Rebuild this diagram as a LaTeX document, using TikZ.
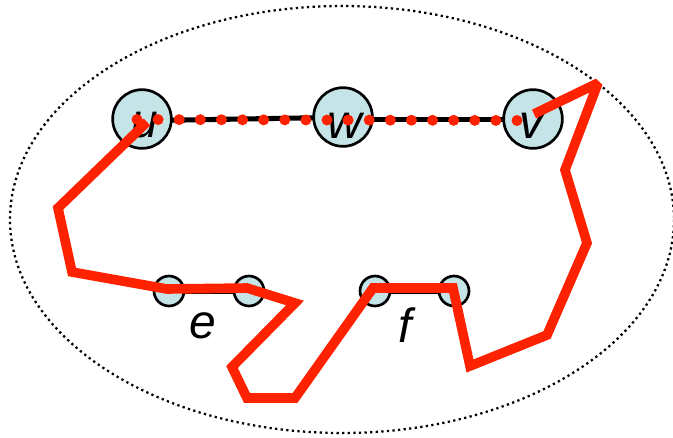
\documentclass[tikz,border=0pt]{standalone}
\usepackage{fontspec}
\setmainfont{Liberation Sans}
\usetikzlibrary{calc}
\definecolor{nodefill}{RGB}{197,228,232}
\definecolor{pathred}{RGB}{255,34,0}
\begin{document}
\begin{tikzpicture}[x=0.75pt,y=-0.75pt,
  bignode/.style={circle,draw=black,line width=2pt,fill=nodefill,minimum size=44pt,inner sep=0pt},
  smallnode/.style={circle,draw=black,line width=2pt,fill=nodefill,minimum size=22.5pt,inner sep=0pt},
  lbl/.style={anchor=base,inner sep=0pt,font=\fontsize{36}{40}\selectfont\itshape},
  edge/.style={draw=black,line width=3.8pt},
  walk/.style={draw=pathred,line width=7.2pt,line join=miter,miter limit=2},
  region/.style={draw=black,line width=1.7pt,dash pattern=on 1.7pt off 2.5pt}]
\useasboundingbox (0,0) rectangle (673,437);
\draw[region] (342,219.5) ellipse [x radius=332, y radius=213.5];
% edges
\coordinate (ue) at (142,120.7);
\coordinate (we) at (343,117.3);
\draw[edge] (ue) -- (we);
\coordinate (we2) at (343,119.3);
\coordinate (ve) at (533,119.3);
\draw[edge] (we2) -- (ve);
% nodes
\node[bignode] (u) at (142,119) {};
\node[bignode] (w) at (343,117) {};
\node[bignode] (v) at (533,119) {};
\node[smallnode] (e1) at (169,291) {};
\node[smallnode] (e2) at (249,291) {};
\node[smallnode] (f1) at (375,291) {};
\node[smallnode] (f2) at (454,291) {};
\draw[edge] (e1) -- (e2);
\draw[edge] (f1) -- (f2);
% labels
\node[lbl] (ul) at (145,137) {u};
\node[lbl] (wl) at (345,138) {w};
\node[lbl] (vl) at (531,138) {v};
\node[lbl] (el) at (203,338) {e};
\node[lbl] (fl) at (405,342) {f};
% red dotted walk u -- w -- v
\coordinate (ds) at (137,119.5);
\coordinate (de) at (517,120.5);
\foreach \i in {0,...,18}
  \fill[pathred] ($(ds)!\i/18!(de)$) circle [radius=5.5];
% red walk
\draw[walk] ($(u)+(5,3)$) -- (58,208) -- (72,272) -- ($(e1)+(-2,-2)$) -- ($(e2)+(-2,-3)$)
  -- (295,303) -- (232,367) -- (247,398) -- (295,398)
  -- ($(f1)+(-2,-3)$) -- ($(f2)+(-1,-3)$) -- (470,366) -- (547,335)
  -- (587,243) -- (565,170) -- (598,83) -- ($(v)+(1,-5)$);
\end{tikzpicture}
\end{document}
